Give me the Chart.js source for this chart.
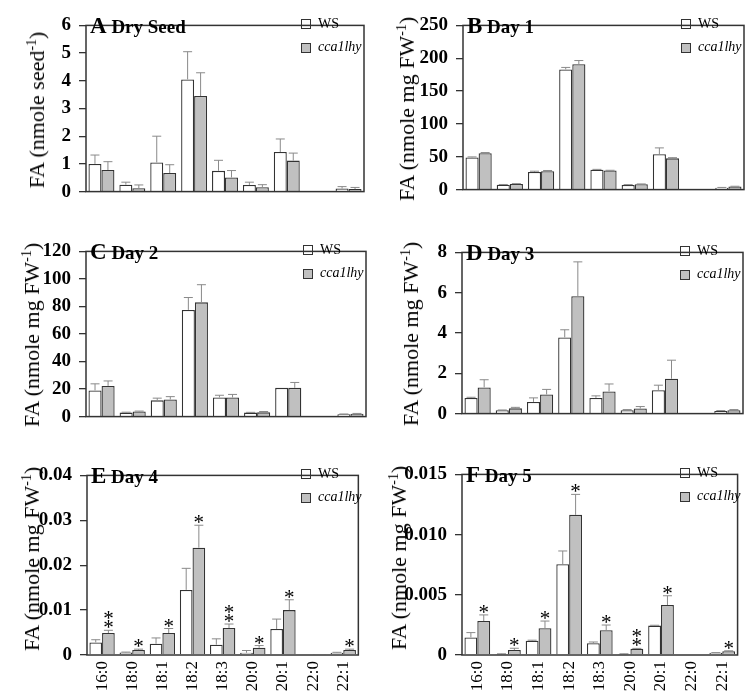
<!DOCTYPE html>
<html>
<head>
<meta charset="utf-8">
<script src="https://cdn.jsdelivr.net/npm/chart.js@4.4.1/dist/chart.umd.min.js"></script>
<style>
body{margin:0;background:#fff;width:751px;height:700px;position:relative;overflow:hidden;font-family:'Liberation Serif','Times New Roman',serif;color:#000}
canvas{position:absolute}
.ytitle{position:absolute;white-space:nowrap;font-size:22px;line-height:22px;transform:translate(-50%,-50%) rotate(-90deg)}
.ytitle sup{font-size:14px;vertical-align:8px;line-height:0}
.ptitle{position:absolute;white-space:nowrap;font-weight:bold;font-size:19px;line-height:22px}
.ptitle span{font-size:23px}
.legtxt{position:absolute;white-space:nowrap}
.box{position:absolute;width:10px;height:10px;border:1px solid #333;box-sizing:border-box}
</style>
</head>
<body>
<script>
// fatty acid species on the x axis
const fattyAcids = ['16:0','18:0','18:1','18:2','18:3','20:0','20:1','22:0','22:1'];

// A dry seed
const wsA      = [1.00, 0.25, 1.05, 4.05, 0.75, 0.24, 1.43, 0.01, 0.11];
const wsErrA   = [0.32, 0.09, 0.95, 1.00, 0.38, 0.10, 0.47, 0, 0.07];
const ccaA     = [0.78, 0.12, 0.67, 3.45, 0.51, 0.16, 1.12, 0.02, 0.09];
const ccaErrA  = [0.30, 0.12, 0.30, 0.84, 0.25, 0.09, 0.27, 0, 0.06];
const yTicksA  = ['0','1','2','3','4','5','6'];

// B day 1
const wsB      = [49, 7.4, 26.8, 183, 30.3, 7.0, 54, 0, 3.0];
const wsErrB   = [0.8, 0.4, 1.2, 3.0, 0.5, 0.6, 9.5, 0, 0.3];
const ccaB     = [55.4, 8.7, 28.1, 191, 29.0, 8.2, 47.6, 0, 4.8];
const ccaErrB  = [1.0, 0.4, 1.0, 5.5, 0.4, 0.4, 1.0, 0, 0.3];
const yTicksB  = ['0','50','100','150','200','250'];

// C day 2
const wsC      = [19.0, 2.9, 11.8, 77.5, 13.9, 2.9, 20.9, 0, 1.7];
const wsErrC   = [4.8, 0.3, 1.6, 9.0, 1.6, 0.2, 0, 0, 0.2];
const ccaC     = [22.3, 3.7, 12.4, 83.0, 13.9, 3.1, 20.9, 0, 2.1];
const ccaErrC  = [3.6, 0.3, 2.1, 12.8, 2.2, 0.6, 3.9, 0, 0.2];
const yTicksC  = ['0','20','40','60','80','100','120'];

// D day 3
const wsD      = [0.78, 0.17, 0.58, 3.78, 0.78, 0.17, 1.16, 0.01, 0.13];
const wsErrD   = [0.03, 0.01, 0.20, 0.38, 0.10, 0.03, 0.25, 0, 0.02];
const ccaD     = [1.30, 0.26, 0.95, 5.83, 1.10, 0.25, 1.73, 0.02, 0.17];
const ccaErrD  = [0.38, 0.05, 0.25, 1.70, 0.37, 0.10, 0.92, 0, 0.03];
const yTicksD  = ['0','2','4','6','8'];

// E day 4
const wsE      = [0.0028, 0.00055, 0.0025, 0.0145, 0.0023, 0.0005, 0.0058, 0, 0.0005];
const wsErrE   = [0.0006, 0.0001, 0.0013, 0.0048, 0.0013, 0.0005, 0.0022, 0, 0.0001];
const ccaE     = [0.0049, 0.0011, 0.0049, 0.0239, 0.0060, 0.0016, 0.0100, 0.0001, 0.0011];
const ccaErrE  = [0.0006, 0.0002, 0.0010, 0.0050, 0.0009, 0.0005, 0.0023, 0, 0.0002];
const sigE     = ['**','*','*','*','**','*','*','','*'];
const yTicksE  = ['0','0.01','0.02','0.03','0.04'];

// F day 5
const wsF      = [0.00146, 0.00008, 0.00118, 0.00754, 0.00097, 0.00008, 0.00244, 0, 0.00018];
const wsErrF   = [0.00040, 0.00002, 0.00005, 0.00110, 0.00011, 0.00002, 0.00003, 0, 0.00002];
const ccaF     = [0.00282, 0.00041, 0.00223, 0.01164, 0.00205, 0.00051, 0.00415, 0, 0.00031];
const ccaErrF  = [0.00051, 0.00015, 0.00059, 0.00170, 0.00044, 0.00004, 0.00077, 0, 0.00004];
const sigF     = ['*','*','*','*','*','**','*','','*'];
const yTicksF  = ['0','0.005','0.010','0.015'];

const serif = "'Liberation Serif', 'Times New Roman', serif";

// box round the plot area
const framePlugin = {
  id: 'frame',
  afterDraw(chart) {
    const a = chart.chartArea, ctx = chart.ctx;
    ctx.save();
    ctx.strokeStyle = '#333';
    ctx.lineWidth = 1.5;
    ctx.strokeRect(a.left, a.top, a.right - a.left, a.bottom - a.top);
    ctx.restore();
  }
};

// upward error bars and significance stars
const errorPlugin = {
  id: 'errbars',
  afterDatasetsDraw(chart) {
    const ctx = chart.ctx, y = chart.scales.y;
    chart.data.datasets.forEach((ds, i) => {
      const meta = chart.getDatasetMeta(i);
      meta.data.forEach((bar, j) => {
        const v = ds.data[j], e = ds.errors[j];
        const y0 = y.getPixelForValue(v), y1 = y.getPixelForValue(v + e);
        ctx.save();
        if (e > 0) {
          ctx.strokeStyle = '#8a8a8a';
          ctx.lineWidth = 1;
          ctx.beginPath();
          ctx.moveTo(bar.x, y0);
          ctx.lineTo(bar.x, y1);
          ctx.moveTo(bar.x - 4.5, y1);
          ctx.lineTo(bar.x + 4.5, y1);
          ctx.stroke();
        }
        if (ds.sig && ds.sig[j]) {
          ctx.fillStyle = '#000';
          ctx.font = '21px ' + serif;
          ctx.textAlign = 'center';
          ctx.textBaseline = 'alphabetic';
          for (let k = 0; k < ds.sig[j].length; k++) {
            ctx.fillText('*', bar.x, y1 + 4 - k * 9);
          }
        }
        ctx.restore();
      });
    });
  }
};

const panels = [
  {letter:'A', name:'Dry Seed', unit:'seed', ws:wsA, wsErr:wsErrA, cca:ccaA, ccaErr:ccaErrA, ticks:yTicksA, l:86, t:12, r:364, b:207, tx:37},
  {letter:'B', name:'Day 1', unit:'mg FW', ws:wsB, wsErr:wsErrB, cca:ccaB, ccaErr:ccaErrB, ticks:yTicksB, l:463, t:12, r:744, b:205, tx:407},
  {letter:'C', name:'Day 2', unit:'mg FW', ws:wsC, wsErr:wsErrC, cca:ccaC, ccaErr:ccaErrC, ticks:yTicksC, l:86, t:238, r:366, b:432, tx:32},
  {letter:'D', name:'Day 3', unit:'mg FW', ws:wsD, wsErr:wsErrD, cca:ccaD, ccaErr:ccaErrD, ticks:yTicksD, l:462, t:239, r:743, b:429, tx:411},
  {letter:'E', name:'Day 4', unit:'mg FW', ws:wsE, wsErr:wsErrE, cca:ccaE, ccaErr:ccaErrE, sig:sigE, ticks:yTicksE, l:87, t:462, r:364, b:655, tx:32, showX:true},
  {letter:'F', name:'Day 5', unit:'mg FW', ws:wsF, wsErr:wsErrF, cca:ccaF, ccaErr:ccaErrF, sig:sigF, ticks:yTicksF, l:462, t:461, r:743, b:655, tx:399, showX:true}
];

function addDiv(cls, html, left, top) {
  const d = document.createElement('div');
  d.className = cls;
  d.innerHTML = html;
  d.style.left = left + 'px';
  d.style.top = top + 'px';
  document.body.appendChild(d);
  return d;
}

function makePanel(p) {
  const yW = 60, padT = 6, padR = 6, padB = 4;
  const xH = p.showX ? 44 : 0;
  const cv = document.createElement('canvas');
  cv.width = (p.r - p.l) + yW + padR;
  cv.height = (p.b - p.t) + xH + padT + padB;
  cv.style.left = (p.l - yW) + 'px';
  cv.style.top = (p.t - padT) + 'px';
  document.body.appendChild(cv);

  const tickVals = p.ticks.map(s => parseFloat(s));

  new Chart(cv, {
    type: 'bar',
    data: {
      labels: fattyAcids,
      datasets: [
        {label:'WS', data:p.ws, errors:p.wsErr, backgroundColor:'#ffffff', borderColor:'#333', borderWidth:1.3},
        {label:'cca1lhy', data:p.cca, errors:p.ccaErr, sig:p.sig, backgroundColor:'#c0c0c0', borderColor:'#333', borderWidth:1.3}
      ]
    },
    options: {
      responsive: false,
      animation: false,
      devicePixelRatio: 1,
      layout: {padding: {top:padT, right:padR, bottom:padB, left:0}},
      plugins: {legend:{display:false}, tooltip:{enabled:false}},
      datasets: {bar: {categoryPercentage:0.84, barPercentage:1}},
      scales: {
        x: {
          offset: true,
          grid: {display:false, drawTicks:false},
          border: {display:false},
          ticks: {display:!!p.showX, minRotation:90, maxRotation:90, autoSkip:false, padding:6, color:'#000', font:{family:serif, size:17}},
          afterFit(s) { s.height = xH; }
        },
        y: {
          min: 0,
          max: tickVals[tickVals.length - 1],
          afterBuildTicks(s) { s.ticks = tickVals.map(v => ({value:v})); },
          ticks: {callback:(v, i) => p.ticks[i], padding:8, color:'#000', font:{family:serif, size:19, weight:'bold'}},
          grid: {drawOnChartArea:false, drawTicks:true, tickLength:7, color:'#333', lineWidth:1.3},
          border: {display:false},
          afterFit(s) { s.width = yW; }
        }
      }
    },
    plugins: [framePlugin, errorPlugin]
  });

  // panel letter and name
  addDiv('ptitle', '<span>' + p.letter + '</span> ' + p.name, p.l + 4, p.t + 3);

  // legend
  addDiv('box', '', p.r - 63, p.t + 7);
  const b2 = addDiv('box', '', p.r - 63, p.t + 31);
  b2.style.background = '#c0c0c0';
  const l1 = addDiv('legtxt', 'WS', p.r - 46, p.t + 4);
  l1.style.fontSize = '14px';
  const l2 = addDiv('legtxt', '<i>cca1lhy</i>', p.r - 46, p.t + 27);
  l2.style.fontSize = '14px';

  // y title
  addDiv('ytitle', 'FA (nmole ' + p.unit + '<sup>-1</sup>)', p.tx, (p.t + p.b) / 2);
}

panels.forEach(makePanel);
</script>
</body>
</html>
